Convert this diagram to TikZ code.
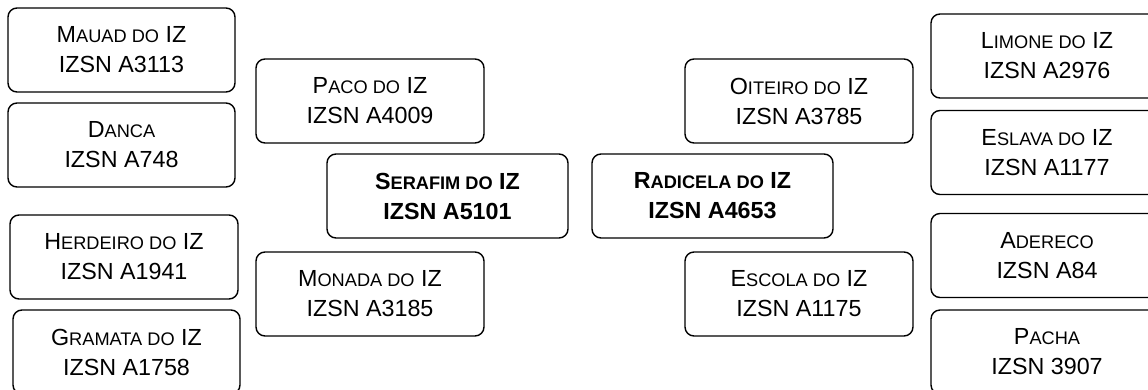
\documentclass[tikz,border=0pt]{standalone}
\usepackage{fontspec}
\setmainfont{Liberation Sans}
\usepackage{tikz}
\usetikzlibrary{positioning}
\tikzstyle{pedbox} = [rectangle, draw, rounded corners=9pt, line width=1.4pt, align=center, minimum height=84pt, inner sep=0pt, font=\fontsize{23.3}{30}\selectfont]
\newcommand{\smc}[1]{{\fontsize{18.2}{30}\selectfont #1}}

\begin{document}
\begin{tikzpicture}[x=1pt, y=-1pt]
    \useasboundingbox (0,0) rectangle (1148,389);
    % grandparents, left
    \node[pedbox, minimum width=227pt] (mauad) at (121.5,50) {M\smc{AUAD DO} IZ\\IZSN A3113};
    \node[pedbox, minimum width=227pt] (danca) at (121.5,145) {D\smc{ANCA}\\IZSN A748};
    \node[pedbox, minimum width=228pt] (herdeiro) at (124,257) {H\smc{ERDEIRO DO} IZ\\IZSN A1941};
    \node[pedbox, minimum width=227pt] (gramata) at (126.5,352) {G\smc{RAMATA DO} IZ\\IZSN A1758};
    % parents, left
    \node[pedbox, minimum width=228pt] (paco) at (370,101) {P\smc{ACO DO} IZ\\IZSN A4009};
    \node[pedbox, minimum width=228pt] (monada) at (370,294) {M\smc{ONADA DO} IZ\\IZSN A3185};
    % the two animals
    \node[pedbox, minimum width=241pt, font=\fontsize{23.3}{30}\selectfont\bfseries] (serafim) at (447.5,196) {S\smc{ERAFIM DO} IZ\\IZSN A5101};
    \node[pedbox, minimum width=241pt, font=\fontsize{23.3}{30}\selectfont\bfseries] (radicela) at (712.5,196) {R\smc{ADICELA DO} IZ\\IZSN A4653};
    % parents, right
    \node[pedbox, minimum width=228pt] (oiteiro) at (799,101) {O\smc{ITEIRO DO} IZ\\IZSN A3785};
    \node[pedbox, minimum width=228pt] (escola) at (799,294) {E\smc{SCOLA DO} IZ\\IZSN A1175};
    % grandparents, right
    \node[pedbox, minimum width=232pt] (limone) at (1047,56) {L\smc{IMONE DO} IZ\\IZSN A2976};
    \node[pedbox, minimum width=232pt] (eslava) at (1047,152.5) {E\smc{SLAVA DO} IZ\\IZSN A1177};
    \node[pedbox, minimum width=232pt] (adereco) at (1047,255.5) {A\smc{DERECO}\\IZSN A84};
    \node[pedbox, minimum width=232pt] (pacha) at (1047,352) {P\smc{ACHA}\\IZSN 3907};
\end{tikzpicture}
\end{document}
